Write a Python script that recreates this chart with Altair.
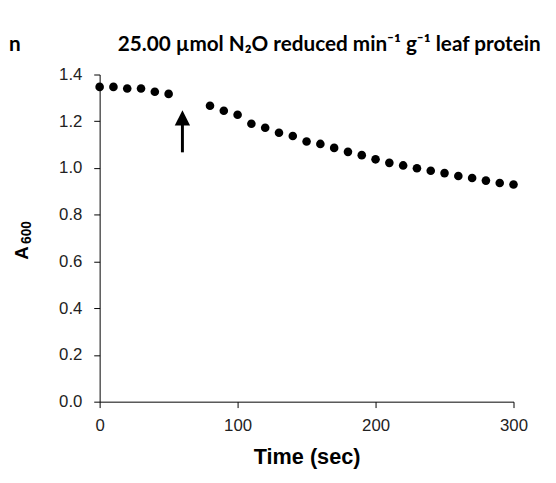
import altair as alt
import pandas as pd

# Data
time_before = [0, 10, 20, 30, 40, 50]
a600_before = [1.347, 1.347, 1.340, 1.340, 1.326, 1.317]
time_after = [80, 90, 100, 110, 120, 130, 140, 150, 160, 170, 180, 190,
              200, 210, 220, 230, 240, 250, 260, 270, 280, 290, 300]
a600_after = [1.266, 1.245, 1.228, 1.189, 1.172, 1.151, 1.137, 1.113,
              1.103, 1.086, 1.069, 1.055, 1.037, 1.022, 1.011, 0.999,
              0.988, 0.978, 0.966, 0.957, 0.946, 0.936, 0.929]
x_ticks = [0, 100, 200, 300]
y_ticks = [0.0, 0.2, 0.4, 0.6, 0.8, 1.0, 1.2, 1.4]
arrow_time = [60]
arrow_base = [1.067]
arrow_shaft_top = [1.185]
arrow_head = [1.214]

title_text = "25.00 µmol N₂O reduced min⁻¹ g⁻¹ leaf protein"
panel_fragment = "n"
y_title_main = "A"
y_title_sub = "600"

df = pd.DataFrame({"t": time_before + time_after, "a": a600_before + a600_after})
shaft_df = pd.DataFrame({"t": arrow_time, "a": arrow_base, "a2": arrow_shaft_top})
head_df = pd.DataFrame({"t": arrow_time, "a": arrow_head})

x_enc = alt.X("t:Q", scale=alt.Scale(domain=[0, 300], nice=False, zero=False),
              axis=alt.Axis(values=x_ticks, title="Time (sec)", labelPadding=10,
                            titlePadding=14, labelFlush=False))
y_enc = alt.Y("a:Q", scale=alt.Scale(domain=[0, 1.4], nice=False),
              axis=alt.Axis(values=y_ticks, format=".1f", title=None, labelPadding=12))

points = alt.Chart(df).mark_circle(size=76, color="black", opacity=1).encode(x=x_enc, y=y_enc)

shaft = alt.Chart(shaft_df).mark_rule(strokeWidth=3, color="black").encode(
    x="t:Q", y="a:Q", y2="a2:Q")
head = alt.Chart(head_df).mark_point(shape="M0,-1L1,1L-1,1Z", size=240, filled=True,
                                     color="black", opacity=1, strokeWidth=0).encode(
    x="t:Q", y="a:Q")

title = alt.Chart(pd.DataFrame({"label": [title_text]})).mark_text(
    font="Lato", fontSize=21, fontWeight="bold", color="black", align="center",
    baseline="alphabetic").encode(text="label:N", x=alt.value(233), y=alt.value(-24))

frag = alt.Chart(pd.DataFrame({"label": [panel_fragment]})).mark_text(
    font="Lato", fontSize=21, fontWeight="bold", color="black", align="left",
    baseline="alphabetic").encode(text="label:N", x=alt.value(-92), y=alt.value(-24))

ytitle_a = alt.Chart(pd.DataFrame({"label": [y_title_main]})).mark_text(
    font="Liberation Sans", fontSize=19, fontWeight="bold", color="black", align="left",
    baseline="alphabetic", angle=270).encode(text="label:N", x=alt.value(-73), y=alt.value(188))

ytitle_sub = alt.Chart(pd.DataFrame({"label": [y_title_sub]})).mark_text(
    font="Liberation Sans", fontSize=14, fontWeight="bold", color="black", align="left",
    baseline="alphabetic", angle=270).encode(text="label:N", x=alt.value(-70), y=alt.value(172))

chart = alt.layer(points, shaft, head, title, frag, ytitle_a, ytitle_sub).properties(
    width=420, height=332,
    autosize=alt.AutoSizeParams(type="none"),
    padding={"left": 93, "top": 64, "right": 35, "bottom": 76},
).configure_axis(
    domainColor="black", tickColor="black", labelColor="#222222",
    labelFont="Liberation Sans", labelFontSize=17,
    titleFont="Liberation Sans", titleFontSize=22, titleFontWeight="bold",
    titleColor="black", grid=False, tickSize=6, domainWidth=1, tickWidth=1,
).configure_view(stroke=None)

chart.save("out.html", embed_options={"renderer": "svg", "actions": False})
